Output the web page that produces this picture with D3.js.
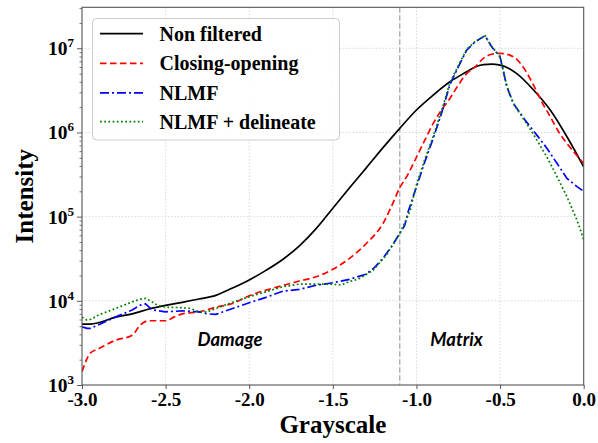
<!DOCTYPE html>
<html><head><meta charset="utf-8">
<script src="https://cdn.jsdelivr.net/npm/d3@7"></script>
<style>
html,body{margin:0;padding:0;background:#fff;}
svg{display:block;}
</style></head>
<body>
<svg id="chart" width="598" height="443"></svg>
<script>
// ---- data ----
const seriesNames = ["Non filtered", "Closing-opening", "NLMF", "NLMF + delineate"];

const gsNonFiltered = [-3.0,-2.95,-2.9,-2.8,-2.7,-2.6,-2.5,-2.4,-2.3,-2.2,-2.1,-2.0,-1.9,-1.8,-1.7,-1.6,-1.5,-1.4,-1.3,-1.2,-1.1,-1.0,-0.9,-0.8,-0.7,-0.65,-0.6,-0.55,-0.5,-0.45,-0.4,-0.3,-0.2,-0.1,0.0];
const valNonFiltered = [5.3e3,5.3e3,5.5e3,6.4e3,7.0e3,8.0e3,8.85e3,9.6e3,1.05e4,1.16e4,1.42e4,1.77e4,2.3e4,3.1e4,4.5e4,7.2e4,1.26e5,2.2e5,3.8e5,6.6e5,1.12e6,1.85e6,2.78e6,4.0e6,5.26e6,6.0e6,6.4e6,6.5e6,6.3e6,5.8e6,5.0e6,3.2e6,1.85e6,8.9e5,3.9e5];

const gsClosing = [-3.0,-2.95,-2.9,-2.8,-2.7,-2.65,-2.6,-2.5,-2.45,-2.4,-2.3,-2.2,-2.1,-2.0,-1.9,-1.8,-1.7,-1.6,-1.5,-1.4,-1.3,-1.2,-1.15,-1.1,-1.05,-1.0,-0.95,-0.9,-0.85,-0.8,-0.75,-0.7,-0.65,-0.6,-0.55,-0.5,-0.45,-0.4,-0.35,-0.3,-0.25,-0.2,-0.15,-0.1,-0.05,0.0];
const valClosing = [1.44e3,2.4e3,2.7e3,3.4e3,3.9e3,5.2e3,5.8e3,5.8e3,6.4e3,7.0e3,7.4e3,8.4e3,9.3e3,1.15e4,1.34e4,1.52e4,1.72e4,1.93e4,2.37e4,3.2e4,4.8e4,8.3e4,1.32e5,2.2e5,3.2e5,5.1e5,8.1e5,1.28e6,1.85e6,2.54e6,3.65e6,5.0e6,6.0e6,7.6e6,8.5e6,8.7e6,8.4e6,7.4e6,5.5e6,3.65e6,2.3e6,1.54e6,1.02e6,7.4e5,5.6e5,4.3e5];

const gsNLMF = [-3.0,-2.97,-2.95,-2.9,-2.8,-2.7,-2.65,-2.62,-2.58,-2.5,-2.4,-2.3,-2.25,-2.2,-2.1,-2.0,-1.9,-1.8,-1.7,-1.6,-1.5,-1.4,-1.3,-1.25,-1.2,-1.15,-1.1,-1.07,-1.05,-1.0,-0.95,-0.9,-0.85,-0.8,-0.75,-0.7,-0.65,-0.59,-0.55,-0.5,-0.46,-0.42,-0.35,-0.28,-0.22,-0.16,-0.1,-0.04,0.0];
const valNLMF = [4.9e3,4.7e3,4.7e3,5.2e3,6.4e3,7.8e3,8.9e3,9.2e3,7.8e3,7.4e3,7.6e3,7.4e3,7.0e3,6.9e3,8.1e3,9.5e3,1.1e4,1.3e4,1.37e4,1.53e4,1.64e4,1.8e4,2.08e4,2.5e4,3.2e4,4.4e4,6.3e4,7.9e4,1.14e5,2.26e5,4.5e5,8.5e5,1.69e6,3.7e6,6.0e6,9.5e6,1.19e7,1.41e7,1.04e7,7.9e6,3.5e6,2.2e6,1.4e6,9.3e5,6.5e5,4.3e5,2.85e5,2.27e5,2.0e5];

const gsDelineate = [-3.0,-2.97,-2.95,-2.9,-2.8,-2.7,-2.65,-2.62,-2.58,-2.55,-2.5,-2.4,-2.35,-2.3,-2.25,-2.2,-2.1,-2.0,-1.9,-1.8,-1.7,-1.6,-1.5,-1.45,-1.4,-1.35,-1.26,-1.18,-1.1,-1.04,-1.0,-0.95,-0.9,-0.85,-0.8,-0.75,-0.7,-0.65,-0.59,-0.55,-0.5,-0.46,-0.42,-0.35,-0.3,-0.28,-0.22,-0.16,-0.1,-0.04,0.0];
const valDelineate = [6.4e3,5.9e3,6.0e3,6.8e3,8.1e3,9.7e3,1.05e4,1.07e4,9.7e3,8.9e3,8.4e3,8.3e3,8.1e3,7.4e3,7.4e3,8.1e3,9.6e3,1.12e4,1.28e4,1.47e4,1.58e4,1.58e4,1.58e4,1.54e4,1.7e4,1.8e4,2.3e4,3.5e4,6.3e4,1.14e5,2.4e5,4.8e5,9.0e5,1.8e6,3.9e6,6.2e6,9.7e6,1.2e7,1.41e7,1.05e7,8.0e6,3.6e6,2.2e6,1.35e6,9.5e5,8.1e5,5.1e5,3.0e5,1.72e5,9.1e4,5.3e4];

const xTicks = [-3.0,-2.5,-2.0,-1.5,-1.0,-0.5,0.0];
const yTickExponents = [3,4,5,6,7];
const boundaryGray = -1.1;
const regionLabels = ["Damage", "Matrix"];
const regionLabelX = [-2.115, -0.76];
const regionLabelY = [2.9e3, 2.9e3];
const xTitle = "Grayscale";
const yTitle = "Intensity";

// ---- layout ----
const svg = d3.select("#chart");
const L = 82, R = 583.7, T = 7.3, B = 385;
const x = d3.scaleLinear().domain([-3, 0]).range([L, R]);
const y = d3.scaleLog().domain([1e3, 3.07e7]).range([B, T]);
const serif = "'Liberation Serif', 'Times New Roman', serif";
const spine = "#555";

// grid
const g = svg.append("g");
g.selectAll(".gx").data(xTicks.slice(1, -1)).enter().append("line")
  .attr("x1", d => x(d)).attr("x2", d => x(d)).attr("y1", T).attr("y2", B)
  .attr("stroke", "#d4d4d4").attr("stroke-width", 0.9).attr("stroke-dasharray", "1.5,1.8");
g.selectAll(".gy").data(yTickExponents.slice(1)).enter().append("line")
  .attr("x1", L).attr("x2", R).attr("y1", d => y(Math.pow(10, d))).attr("y2", d => y(Math.pow(10, d)))
  .attr("stroke", "#d4d4d4").attr("stroke-width", 0.9).attr("stroke-dasharray", "1.5,1.8");

// vertical boundary
g.append("line").attr("x1", x(boundaryGray)).attr("x2", x(boundaryGray)).attr("y1", T).attr("y2", B)
  .attr("stroke", "#a8a8a8").attr("stroke-width", 1.3).attr("stroke-dasharray", "5.5,2.5");

// lines
const series = [
  {gs: gsNonFiltered, v: valNonFiltered, color: "#000000", dash: null, curve: d3.curveMonotoneX},
  {gs: gsClosing, v: valClosing, color: "#ff0000", dash: "6.5,3.5", curve: d3.curveMonotoneX},
  {gs: gsNLMF, v: valNLMF, color: "#0000ff", dash: "9,3,2,3", curve: d3.curveLinear},
  {gs: gsDelineate, v: valDelineate, color: "#008000", dash: "1.8,2.4", curve: d3.curveLinear}
];
svg.append("clipPath").attr("id", "clip").append("rect")
  .attr("x", L).attr("y", T).attr("width", R - L).attr("height", B - T);
const lg = svg.append("g").attr("clip-path", "url(#clip)");
series.forEach(s => {
  const pts = s.gs.map((d, i) => [d, s.v[i]]);
  const line = d3.line().x(d => x(d[0])).y(d => y(d[1])).curve(s.curve);
  lg.append("path").datum(pts).attr("d", line)
    .attr("fill", "none").attr("stroke", s.color).attr("stroke-width", 1.7)
    .attr("stroke-dasharray", s.dash);
});

// region labels
svg.selectAll(".rl").data(regionLabels).enter().append("text")
  .attr("x", (d, i) => x(regionLabelX[i])).attr("y", (d, i) => y(regionLabelY[i]))
  .attr("text-anchor", "middle")
  .style("font-family", "Lato, 'Open Sans', sans-serif").style("font-weight", "bold")
  .style("font-style", "italic").style("font-size", "18.5px").attr("fill", "#000").text(d => d);

// axes
const xAxis = svg.append("g").attr("transform", `translate(0,${B})`)
  .call(d3.axisBottom(x).tickValues(xTicks).tickSize(4).tickPadding(4).tickFormat(d => d.toFixed(1)));
xAxis.select(".domain").remove();
xAxis.selectAll("line").attr("stroke", spine);
xAxis.selectAll("text").style("font-family", serif).style("font-weight", "bold").style("font-size", "19px").attr("fill", "#000");

const minorVals = [];
for (let e = 3; e < 8; e++) for (let m = 2; m < 10; m++) { const v = m * Math.pow(10, e); if (v <= 3.07e7) minorVals.push(v); }
const yAxis = svg.append("g").attr("transform", `translate(${L},0)`)
  .call(d3.axisLeft(y).tickValues(minorVals).tickSize(2.5).tickFormat(""));
yAxis.select(".domain").remove();
yAxis.selectAll("line").attr("stroke", spine).attr("stroke-width", 0.8);
const yMaj = svg.append("g").attr("transform", `translate(${L},0)`)
  .call(d3.axisLeft(y).tickValues(yTickExponents.map(e => Math.pow(10, e))).tickSize(5).tickFormat(""));
yMaj.select(".domain").remove();
yMaj.selectAll("line").attr("stroke", spine);
const yl = svg.append("g");
yTickExponents.forEach(e => {
  const t = yl.append("text").attr("x", L - 8).attr("y", y(Math.pow(10, e)) + 7)
    .attr("text-anchor", "end").style("font-family", serif).style("font-weight", "bold").attr("fill", "#000");
  t.append("tspan").style("font-size", "19.5px").text("10");
  t.append("tspan").attr("dy", -8).style("font-size", "13px").text(String(e));
});

// spines
svg.append("rect").attr("x", L).attr("y", T).attr("width", R - L).attr("height", B - T)
  .attr("fill", "none").attr("stroke", spine).attr("stroke-width", 1.1);

// titles
svg.append("text").attr("x", (L + R) / 2).attr("y", 433).attr("text-anchor", "middle")
  .style("font-family", serif).style("font-weight", "bold").style("font-size", "25px").text(xTitle);
svg.append("text").attr("transform", `translate(33,${(T + B) / 2}) rotate(-90)`).attr("text-anchor", "middle")
  .style("font-family", serif).style("font-weight", "bold").style("font-size", "25px").text(yTitle);

// legend
const leg = svg.append("g");
leg.append("rect").attr("x", 92.5).attr("y", 18.5).attr("width", 247).attr("height", 121.5).attr("rx", 4)
  .attr("fill", "#fff").attr("fill-opacity", 0.85).attr("stroke", "#cccccc").attr("stroke-width", 1);
const rowY = [33.7, 63.3, 92.8, 121.7];
series.forEach((s, i) => {
  leg.append("line").attr("x1", 100).attr("x2", 143).attr("y1", rowY[i]).attr("y2", rowY[i])
    .attr("stroke", s.color).attr("stroke-width", 1.7).attr("stroke-dasharray", s.dash);
  leg.append("text").attr("x", 159.5).attr("y", rowY[i] + 6.8)
    .style("font-family", serif).style("font-weight", "bold").style("font-size", "20px").attr("fill", "#000")
    .text(seriesNames[i]);
});
</script>
</body></html>
